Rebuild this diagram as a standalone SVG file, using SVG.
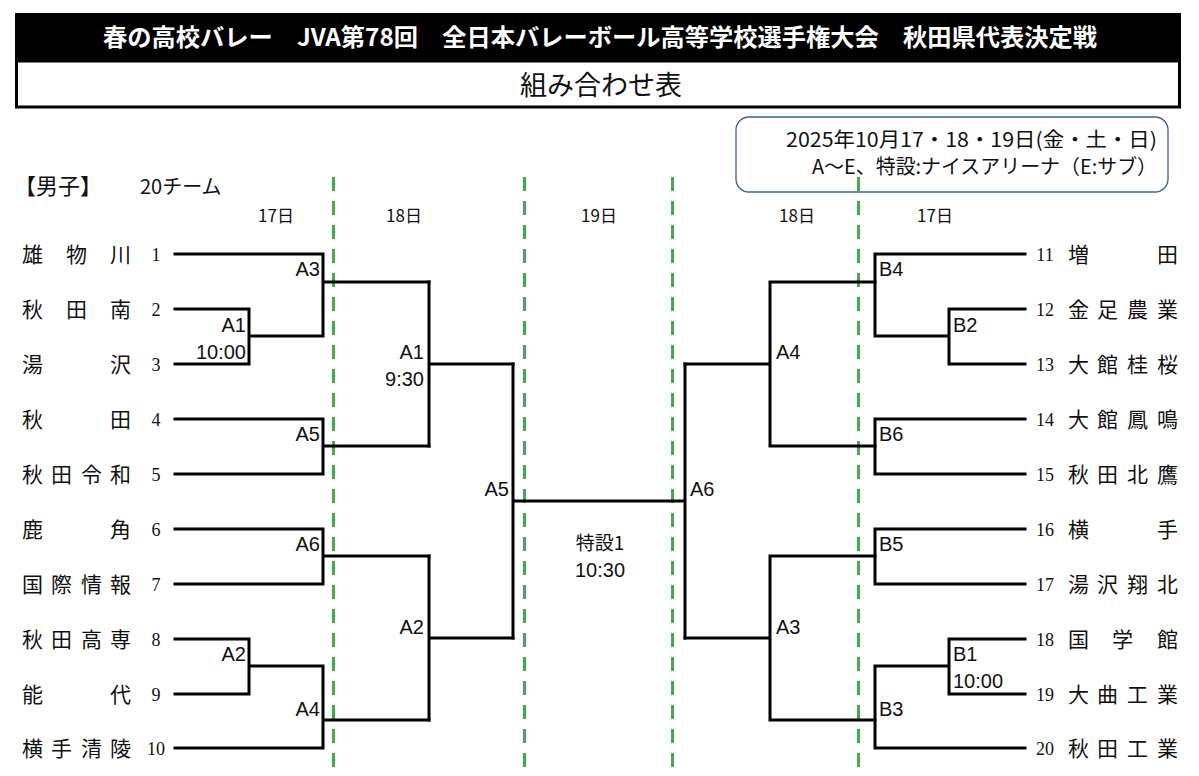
<svg xmlns="http://www.w3.org/2000/svg" width="1199" height="776" viewBox="0 0 1199 776">
<style>
.ln{fill:none;stroke:#000;stroke-width:3;stroke-linecap:square}
.dash{stroke:#45a94c;stroke-width:3;stroke-dasharray:14 10}
.nm{font-family:"Noto Sans CJK JP","Noto Sans",sans-serif;font-size:21px;fill:#111}
.no{font-family:"Liberation Serif","DejaVu Serif",serif;font-size:18px;fill:#111;text-anchor:middle}
.lb{font-family:"Liberation Sans",Arial,sans-serif;font-size:20px;fill:#111}
.r{text-anchor:end}
.m{text-anchor:middle}
.jp{font-family:"Liberation Sans","Noto Sans CJK JP",sans-serif;fill:#111}
.cj{font-family:"Noto Sans CJK JP","Noto Sans",sans-serif;fill:#111}
</style>
<rect width="1199" height="776" fill="#fff"/>
<g id="header">
<rect x="15" y="13" width="1166" height="48" fill="#000"/>
<text x="600" y="46" font-family="'Noto Sans CJK JP',sans-serif" font-weight="bold" font-size="23.5" fill="#fff" text-anchor="middle" textLength="994" lengthAdjust="spacingAndGlyphs">春の高校バレー　JVA第78回　全日本バレーボール高等学校選手権大会　秋田県代表決定戦</text>
<rect x="16.5" y="61" width="1163" height="46" fill="#fff" stroke="#000" stroke-width="3"/>
<text x="601" y="95" font-family="'Noto Sans CJK JP',sans-serif" font-size="27" fill="#111" text-anchor="middle">組み合わせ表</text>
</g>
<g id="info">
<rect x="736" y="117" width="432" height="75" rx="13" fill="#fff" stroke="#3f5c9c" stroke-width="1.3"/>
<text x="1157" y="147" class="cj" font-size="20" text-anchor="end" textLength="371" lengthAdjust="spacingAndGlyphs">2025年10月17・18・19日(金・土・日)</text>
<text x="1157" y="174" class="cj" font-size="20" text-anchor="end" textLength="345" lengthAdjust="spacingAndGlyphs">A～E、特設:ナイスアリーナ（E:サブ）</text>
</g>
<g id="labels">
<text x="14" y="194" class="cj" font-size="22">【男子】</text>
<text x="140" y="194" class="cj" font-size="20">20チーム</text>
<text x="276" y="222" class="cj m" font-size="17">17日</text>
<text x="404" y="222" class="cj m" font-size="17">18日</text>
<text x="599" y="222" class="cj m" font-size="17">19日</text>
<text x="797" y="222" class="cj m" font-size="17">18日</text>
<text x="935" y="222" class="cj m" font-size="17">17日</text>
</g>
<g id="dashes">
<line class="dash" x1="333.5" y1="177" x2="333.5" y2="776"/>
<line class="dash" x1="524.5" y1="177" x2="524.5" y2="776"/>
<line class="dash" x1="672.5" y1="177" x2="672.5" y2="776"/>
<line class="dash" x1="858.5" y1="177" x2="858.5" y2="776"/>
</g>
<g id="teams-left">
<text class="nm" x="22 66 110" y="262">雄物川</text><text class="no" x="156" y="261">1</text>
<text class="nm" x="22 66 110" y="317">秋田南</text><text class="no" x="156" y="316">2</text>
<text class="nm" x="22 110" y="372">湯沢</text><text class="no" x="156" y="371">3</text>
<text class="nm" x="22 110" y="427">秋田</text><text class="no" x="156" y="426">4</text>
<text class="nm" x="22 51 81 110" y="482">秋田令和</text><text class="no" x="156" y="481">5</text>
<text class="nm" x="22 110" y="537">鹿角</text><text class="no" x="156" y="536">6</text>
<text class="nm" x="22 51 81 110" y="592">国際情報</text><text class="no" x="156" y="591">7</text>
<text class="nm" x="22 51 81 110" y="647">秋田高専</text><text class="no" x="156" y="646">8</text>
<text class="nm" x="22 110" y="702">能代</text><text class="no" x="156" y="701">9</text>
<text class="nm" x="22 51 81 110" y="756">横手清陵</text><text class="no" x="156" y="755">10</text>
</g>
<g id="teams-right">
<text class="no" x="1045" y="261">11</text><text class="nm" x="1068 1157" y="262">増田</text>
<text class="no" x="1045" y="316">12</text><text class="nm" x="1068 1097 1127 1157" y="317">金足農業</text>
<text class="no" x="1045" y="371">13</text><text class="nm" x="1068 1097 1127 1157" y="372">大館桂桜</text>
<text class="no" x="1045" y="426">14</text><text class="nm" x="1068 1097 1127 1157" y="427">大館鳳鳴</text>
<text class="no" x="1045" y="481">15</text><text class="nm" x="1068 1097 1127 1157" y="482">秋田北鷹</text>
<text class="no" x="1045" y="536">16</text><text class="nm" x="1068 1157" y="537">横手</text>
<text class="no" x="1045" y="591">17</text><text class="nm" x="1068 1097 1127 1157" y="592">湯沢翔北</text>
<text class="no" x="1045" y="646">18</text><text class="nm" x="1068 1112 1157" y="647">国学館</text>
<text class="no" x="1045" y="701">19</text><text class="nm" x="1068 1097 1127 1157" y="702">大曲工業</text>
<text class="no" x="1045" y="755">20</text><text class="nm" x="1068 1097 1127 1157" y="756">秋田工業</text>
</g>
<g id="connectors">
<path class="ln" d="M175 254H323V336M175 309H249V364H175M249 336H323M323 282H429"/>
<path class="ln" d="M175 419H323V474H175M323 446H429"/>
<path class="ln" d="M429 282V446M429 364H513"/>
<path class="ln" d="M175 529H323V584H175M323 556H429"/>
<path class="ln" d="M175 639H249V694H175M249 666H323V748H175M323 720H429"/>
<path class="ln" d="M429 556V720M429 638H513"/>
<path class="ln" d="M513 364V638M513 501H685M685 364V638"/>
<path class="ln" d="M685 364H770M770 282V446M770 282H875M770 446H875"/>
<path class="ln" d="M875 254H1025M875 254V336H949M949 309H1025M949 309V364H1025"/>
<path class="ln" d="M875 419H1025M875 419V474H1025"/>
<path class="ln" d="M685 638H770M770 556V720M770 556H875M770 720H875"/>
<path class="ln" d="M875 529H1025M875 529V584H1025"/>
<path class="ln" d="M875 748H1025M875 666V748M875 666H949M949 639H1025M949 639V694H1025"/>
</g>
<g id="match-labels">
<text class="lb r" x="320" y="276">A3</text>
<text class="lb r" x="246" y="332">A1</text>
<text class="lb r" x="246" y="359">10:00</text>
<text class="lb r" x="424" y="359">A1</text>
<text class="lb r" x="424" y="386">9:30</text>
<text class="lb r" x="320" y="441">A5</text>
<text class="lb r" x="320" y="551">A6</text>
<text class="lb r" x="246" y="661">A2</text>
<text class="lb r" x="320" y="716">A4</text>
<text class="lb r" x="424" y="634">A2</text>
<text class="lb r" x="509" y="496">A5</text>
<text class="lb" x="690" y="496">A6</text>
<text class="cj m" font-size="19" x="600" y="550">特設1</text>
<text class="lb m" x="600" y="577">10:30</text>
<text class="lb" x="776" y="359">A4</text>
<text class="lb" x="879" y="276">B4</text>
<text class="lb" x="953" y="332">B2</text>
<text class="lb" x="879" y="441">B6</text>
<text class="lb" x="879" y="551">B5</text>
<text class="lb" x="776" y="634">A3</text>
<text class="lb" x="953" y="661">B1</text>
<text class="lb" x="953" y="688">10:00</text>
<text class="lb" x="879" y="716">B3</text>
</g>
</svg>
